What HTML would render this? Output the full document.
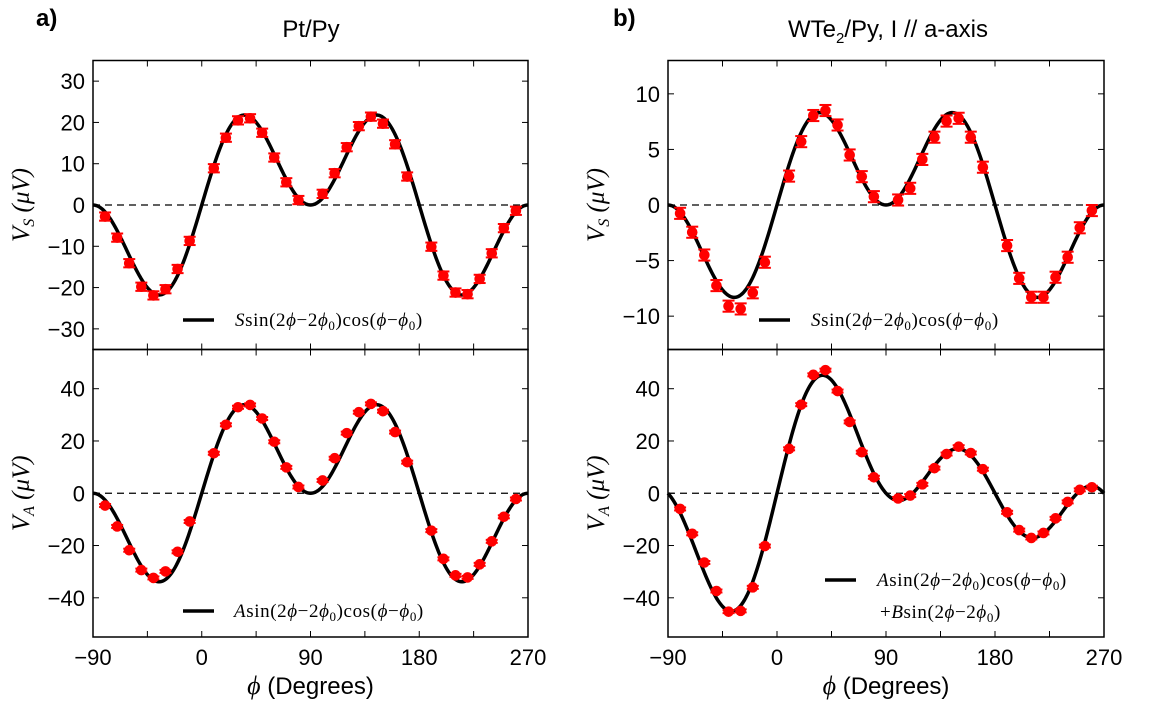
<!DOCTYPE html>
<html><head><meta charset="utf-8">
<style>
body{margin:0;background:#fff;}
svg text{font-family:"Liberation Sans",sans-serif;}
.m{font-family:"Liberation Serif",serif;}
</style></head>
<body>
<svg id="fig" width="1151" height="701" xmlns="http://www.w3.org/2000/svg">
<text x="36" y="26" font-size="24" font-weight="bold">a)</text>
<text x="311" y="37" font-size="24" text-anchor="middle">Pt/Py</text>
<text x="613" y="26" font-size="24" font-weight="bold">b)</text>
<text x="888" y="37" font-size="24" text-anchor="middle">WTe<tspan font-size="15" dy="6">2</tspan><tspan dy="-6">/Py, I // a-axis</tspan></text>
<g id="plots"></g>
</svg>
<script>
const angles = [-80,-70,-60,-50,-40,-30,-20,-10,10,20,30,40,50,60,70,80,100,110,120,130,140,150,160,170,190,200,210,220,230,240,250,260];
const vsPt = [-2.8,-7.9,-14.1,-19.8,-21.9,-20.4,-15.5,-8.7,8.9,16.3,20.5,21.0,17.5,11.5,5.5,1.2,2.7,7.7,14.0,19.1,21.4,19.7,14.7,6.9,-10.1,-17.1,-21.2,-21.6,-17.9,-11.7,-5.6,-1.4];
const vaPt = [-4.7,-12.7,-21.8,-29.4,-32.4,-29.9,-22.4,-10.8,15.3,26.2,32.9,33.8,28.6,19.7,9.9,2.4,4.9,13.4,23.0,31.0,34.2,31.4,23.4,11.9,-14.3,-25.1,-31.4,-32.2,-27.2,-18.4,-9.0,-2.2];
const vsW = [-0.75,-2.45,-4.5,-7.25,-9.1,-9.35,-7.9,-5.15,2.6,5.7,8.05,8.5,7.2,4.5,2.55,0.75,0.45,1.5,4.1,6.1,7.55,7.8,6.1,3.4,-3.65,-6.6,-8.3,-8.3,-6.5,-4.7,-2.05,-0.5];
const vaW = [-6.0,-15.5,-26.5,-37.4,-45.3,-45.0,-36.0,-20.2,17.0,33.9,45.3,47.1,39.1,27.3,15.7,6.1,-2.0,-0.9,3.4,9.6,15.0,17.8,15.4,9.2,-7.3,-14.1,-17.1,-15.2,-9.6,-3.3,1.3,2.3];
const errPt = [1.0];
const errW = [0.5];
const fitA = [28.3, 44, 10.8, 40];
const fitB = [0, 0, 0, 15];
const xTicks = [-90,-45,0,45,90,135,180,225,270];
const xLabels = [-90,0,90,180,270];

const NS="http://www.w3.org/2000/svg";
const root=document.getElementById('plots');
function mk(tag,attrs,parent){const e=document.createElementNS(NS,tag);for(const k in attrs)e.setAttribute(k,attrs[k]);(parent||root).appendChild(e);return e;}

const panels=[
 {x0:93,x1:528,y0:60.5,y1:349.5,ymin:-35,ymax:35,ticks:[-30,-20,-10,0,10,20,30],data:vsPt,err:errPt[0],fi:0,name:'pt-vs',ylab:'S',legend:{lx:183,ly:320,tx:235}},
 {x0:93,x1:528,y0:349.5,y1:637,ymin:-55,ymax:55,ticks:[-40,-20,0,20,40],data:vaPt,err:0.3,fi:1,name:'pt-va',ylab:'A',xaxis:true,legend:{lx:183,ly:611,tx:234}},
 {x0:668,x1:1104,y0:60.5,y1:349.5,ymin:-13,ymax:13,ticks:[-10,-5,0,5,10],data:vsW,err:errW[0],fi:2,name:'wte2-vs',ylab:'S',legend:{lx:759,ly:320,tx:811}},
 {x0:668,x1:1104,y0:349.5,y1:637,ymin:-55,ymax:55,ticks:[-40,-20,0,20,40],data:vaW,err:0.3,fi:3,name:'wte2-va',ylab:'A',xaxis:true,legend:{lx:825,ly:580,tx:877,two:true}}
];

panels.forEach(p=>{
 const g=mk('g',{});
 
 
 const X=d=>p.x0+(d+90)/360*(p.x1-p.x0);
 const Y=v=>p.y1-(v-p.ymin)/(p.ymax-p.ymin)*(p.y1-p.y0);
 const z=mk('line',{x1:p.x0,x2:p.x1,y1:Y(0),y2:Y(0),stroke:'#000','stroke-width':1.3,'stroke-dasharray':'7,5'},g);
 
 
 let pts=[];
 for(let d=-90;d<=270;d+=1){const r=d*Math.PI/180;const v=fitA[p.fi]*Math.sin(2*r)*Math.cos(r)+fitB[p.fi]*Math.sin(2*r);pts.push(X(d).toFixed(2)+','+Y(v).toFixed(2));}
 const c=mk('polyline',{points:pts.join(' '),fill:'none',stroke:'#000','stroke-width':3.5},g);
 
 
 angles.forEach((a,i)=>{
  const v=p.data[i],cx=X(a),cy=Y(v),e=Math.max(Y(v-p.err)-cy,1.5);
  const eg=mk('g',{},g);
  
  
  mk('line',{x1:cx,x2:cx,y1:cy-e,y2:cy+e,stroke:'#f00','stroke-width':1.5},eg);
  mk('line',{x1:cx-6,x2:cx+6,y1:cy-e,y2:cy-e,stroke:'#f00','stroke-width':2},eg);
  mk('line',{x1:cx-6,x2:cx+6,y1:cy+e,y2:cy+e,stroke:'#f00','stroke-width':2},eg);
  mk('circle',{cx:cx,cy:cy,r:5.3,fill:'#f00'},eg);
 });
 const f=mk('rect',{x:p.x0,y:p.y0,width:p.x1-p.x0,height:p.y1-p.y0,fill:'none',stroke:'#000','stroke-width':1.5},g);
 
 
 p.ticks.forEach(t=>{
  const y=Y(t);
  mk('line',{x1:p.x0,x2:p.x0+6,y1:y,y2:y,stroke:'#000','stroke-width':1},g);
  mk('line',{x1:p.x1,x2:p.x1-6,y1:y,y2:y,stroke:'#000','stroke-width':1},g);
  const tl=mk('text',{x:p.x0-8,y:y+8,'font-size':22,'text-anchor':'end'},g);
  tl.textContent=String(t).replace('-','−');
  
  
 });
 xTicks.forEach(t=>{
  const x=X(t);
  mk('line',{x1:x,x2:x,y1:p.y1,y2:p.y1-6,stroke:'#000','stroke-width':1},g);
  mk('line',{x1:x,x2:x,y1:p.y0,y2:p.y0+6,stroke:'#000','stroke-width':1},g);
 });
 if(p.xaxis){
  xLabels.forEach(t=>{
   const tl=mk('text',{x:X(t),y:665,'font-size':22,'text-anchor':'middle'},g);
   tl.textContent=String(t).replace('-','−');
   
   
  });
  const xl=mk('text',{x:(p.x0+p.x1)/2,y:694,'font-size':24,'text-anchor':'middle'},g);
  xl.innerHTML='<tspan class="m" font-style="italic" font-size="26">ϕ</tspan> (Degrees)';
  
  
 }
 const cy=(p.y0+p.y1)/2, lx=p.x0-64;
 const yl=mk('text',{x:lx,y:cy,'font-size':25,'text-anchor':'middle',transform:`rotate(-90 ${lx} ${cy})`,class:'m','font-style':'italic'},g);
 yl.innerHTML='V<tspan font-size="16" dy="5">'+p.ylab+'</tspan><tspan dy="-5">  (μV)</tspan>';
 
 
 const L=p.legend;
 const lg=mk('g',{},g);
 
 
 mk('line',{x1:L.lx,x2:L.lx+31,y1:L.ly,y2:L.ly,stroke:'#000','stroke-width':3.5},lg);
 const lt=mk('text',{x:L.tx,y:L.ly+6,'font-size':19,class:'m','letter-spacing':'0.6'},lg);
 const sym=p.ylab;
 lt.innerHTML='<tspan font-style="italic">'+sym+'</tspan>sin(2<tspan font-style="italic">ϕ</tspan>−2<tspan font-style="italic">ϕ</tspan><tspan font-size="13" dy="4">0</tspan><tspan dy="-4">)cos(</tspan><tspan font-style="italic">ϕ</tspan>−<tspan font-style="italic">ϕ</tspan><tspan font-size="13" dy="4">0</tspan><tspan dy="-4">)</tspan>';
 if(L.two){
  const lt2=mk('text',{x:L.tx+3,y:L.ly+38,'font-size':19,class:'m','letter-spacing':'0.6'},lg);
  lt2.innerHTML='+<tspan font-style="italic">B</tspan>sin(2<tspan font-style="italic">ϕ</tspan>−2<tspan font-style="italic">ϕ</tspan><tspan font-size="13" dy="4">0</tspan><tspan dy="-4">)</tspan>';
 }
});
</script>
</body></html>
